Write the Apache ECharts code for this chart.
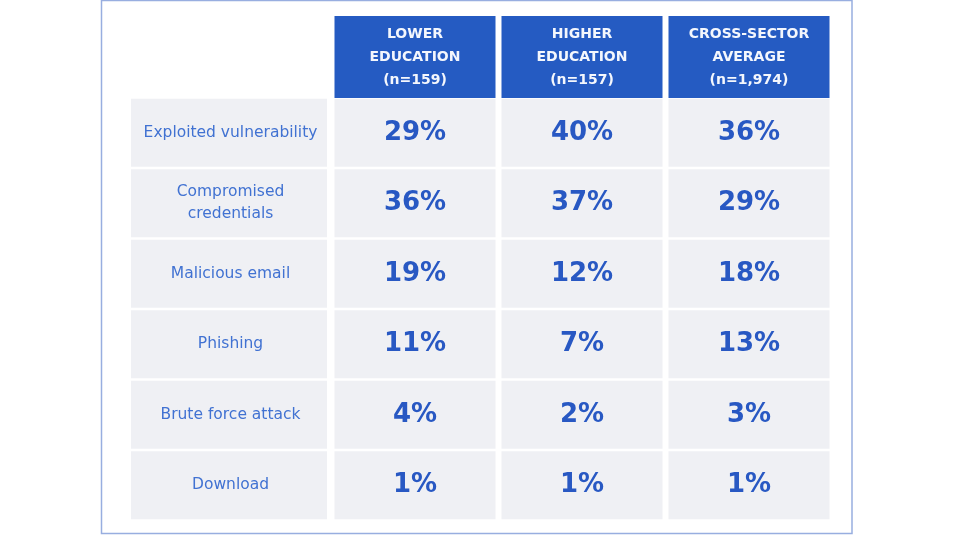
<!DOCTYPE html>
<html>
<head>
<meta charset="utf-8">
<script src="https://cdn.jsdelivr.net/npm/echarts@6/dist/echarts.min.js"></script>
<style>
  html, body { margin: 0; padding: 0; background: #fff; }
  #chart { width: 960px; height: 540px; }
</style>
</head>
<body>
<div id="chart"></div>
<script>
// table content
var columns = ['LOWER\nEDUCATION\n(n=159)', 'HIGHER\nEDUCATION\n(n=157)', 'CROSS-SECTOR\nAVERAGE\n(n=1,974)'];
var vectors = ['Exploited vulnerability', 'Compromised\ncredentials', 'Malicious email', 'Phishing', 'Brute force attack', 'Download'];
var lowerEd = [29, 36, 19, 11, 4, 1];
var higherEd = [40, 37, 12, 7, 2, 1];
var crossSector = [36, 29, 18, 13, 3, 1];

var BLUE = '#255bc2';
var CELL = '#eff0f4';
var FONT = 'DejaVu Sans';

var valueData = [];
[lowerEd, higherEd, crossSector].forEach(function (arr, c) {
    arr.forEach(function (v, r) { valueData.push([c, r, v]); });
});
var labelData = vectors.map(function (name, r) { return [0, r, name]; });
var headerData = columns.map(function (name, c) { return [c, 0, name]; });

function cellItem(gapX, gapY, fill, textStyle) {
    return function (params, api) {
        var c = api.coord([api.value(0), api.value(1)]);
        var s = api.size([1, 1]);
        var w = s[0] - gapX, h = s[1] - gapY;
        return {
            type: 'group',
            children: [{
                type: 'rect',
                shape: { x: c[0] - w / 2, y: c[1] - h / 2, width: w, height: h },
                style: { fill: fill }
            }, {
                type: 'text',
                style: Object.assign({
                    x: c[0] + (textStyle.dx || 0), y: c[1],
                    text: textStyle.format(api.value(2)),
                    textAlign: 'center',
                    textVerticalAlign: 'middle',
                    fontFamily: FONT
                }, textStyle.style)
            }]
        };
    };
}

var chart = echarts.init(document.getElementById('chart'));
var hiddenCat = function (data, extra) {
    return Object.assign({ type: 'category', data: data, show: false }, extra || {});
};

chart.setOption({
    animation: false,
    grid: [
        { left: 131, top: 97.5, width: 196, height: 423 },   // row labels
        { left: 331.5, top: 97.5, width: 501, height: 423 },  // values
        { left: 331.5, top: 16, width: 501, height: 82 }      // headers
    ],
    xAxis: [
        hiddenCat(['label'], { gridIndex: 0 }),
        hiddenCat([0, 1, 2], { gridIndex: 1 }),
        hiddenCat([0, 1, 2], { gridIndex: 2 })
    ],
    yAxis: [
        hiddenCat([0, 1, 2, 3, 4, 5], { gridIndex: 0, inverse: true }),
        hiddenCat([0, 1, 2, 3, 4, 5], { gridIndex: 1, inverse: true }),
        hiddenCat([0], { gridIndex: 2 })
    ],
    graphic: [{
        type: 'rect',
        shape: { x: 101.5, y: 0.5, width: 750.5, height: 533 },
        style: { fill: 'none', stroke: '#98aee0', lineWidth: 1.5 },
        z: -1
    }],
    series: [{
        type: 'custom',
        xAxisIndex: 0, yAxisIndex: 0,
        data: labelData,
        renderItem: cellItem(0, 2.7, CELL, {
            dx: 1.5,
            format: function (v) { return v; },
            style: { fill: '#4172d2', fontSize: 15.5, lineHeight: 22 }
        })
    }, {
        type: 'custom',
        xAxisIndex: 1, yAxisIndex: 1,
        data: valueData,
        renderItem: cellItem(6, 2.7, CELL, {
            format: function (v) { return v + '%'; },
            style: { fill: '#2858c3', fontSize: 26, fontWeight: 'bold' }
        })
    }, {
        type: 'custom',
        xAxisIndex: 2, yAxisIndex: 2,
        data: headerData,
        renderItem: cellItem(6, 0, BLUE, {
            format: function (v) { return v; },
            style: { fill: '#f4f7fd', fontSize: 14, fontWeight: 'bold', lineHeight: 23 }
        })
    }]
});
</script>
</body>
</html>
